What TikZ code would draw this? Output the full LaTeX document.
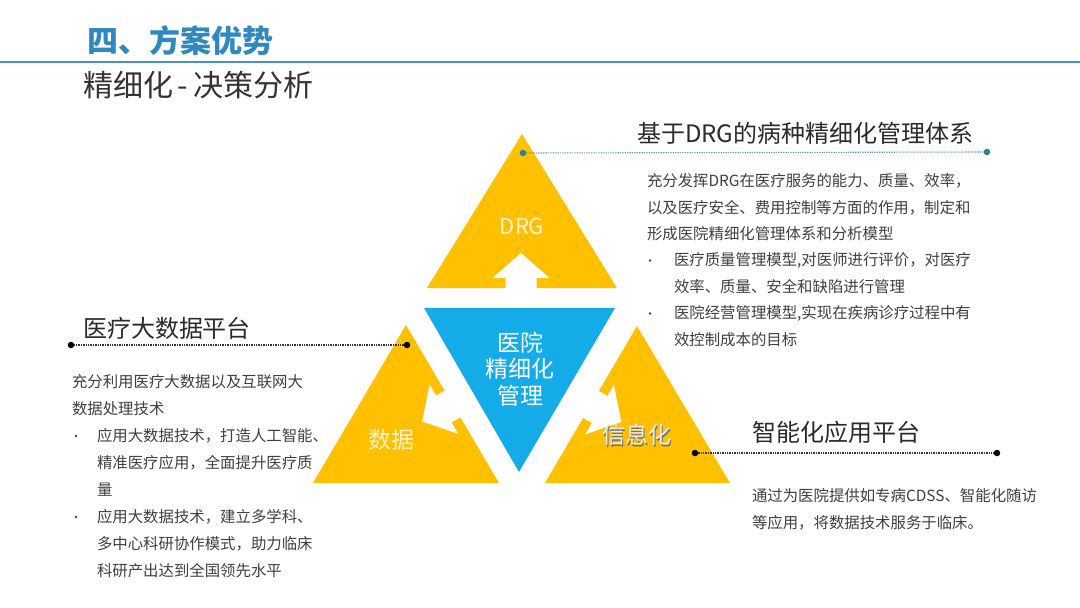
\documentclass[tikz,border=0pt]{standalone}
\usepackage{fontspec}
\setmainfont{Noto Sans CJK SC}
\definecolor{triY}{HTML}{FFC000}
\definecolor{triB}{HTML}{14ACE8}
\definecolor{titleB}{HTML}{2F88BE}
\definecolor{lineB}{HTML}{4A92C4}
\definecolor{subG}{HTML}{333333}
\definecolor{headG}{HTML}{2B2B2B}
\definecolor{bodyG}{HTML}{404040}
\definecolor{lblY}{HTML}{FFF3CF}
\definecolor{dotT}{HTML}{2F7F9C}
\definecolor{leadT}{HTML}{5E9DB8}
\begin{document}
\begin{tikzpicture}[x=1pt,y=-1pt,
  every node/.style={inner sep=0pt,outer sep=0pt},
  bodytxt/.style={anchor=west,font=\fontsize{15.4}{18}\selectfont,text=bodyG},
  bul/.style={circle,fill=bodyG,minimum size=2.8pt},
  headtxt/.style={anchor=west,font=\fontsize{24}{28}\selectfont,text=headG},
  dotblack/.style={circle,fill=black,minimum size=6.5pt},
  dotteal/.style={circle,fill=dotT,minimum size=6.5pt},
  leaderK/.style={draw=black!80,line width=1.1pt,dash pattern=on 1.3pt off 1.1pt},
  leaderT/.style={draw=leadT,line width=1.1pt,dash pattern=on 1.3pt off 1.1pt},
  outarrow/.pic={\fill[white] (-15.5,3) -- (-15.5,-10) -- (-28.5,-10) -- (0,-35) -- (28.5,-10) -- (15.5,-10) -- (15.5,3) -- cycle;}
]
\useasboundingbox (0,0) rectangle (1080,608);
\fill[white] (0,0) rectangle (1080,608);

% header
\node[anchor=west,font=\fontsize{31}{36}\selectfont\bfseries,text=titleB] (title) at (87,41) {四、方案优势};
\draw[lineB,line width=2pt] (0,61.5) -- (1080,61.5);
\node[anchor=west,font=\fontsize{30}{34}\selectfont,text=subG] (sub) at (83,85) {精细化\kern5pt-\kern5pt决策分析};

% triangles
\fill[triY] (427,288) -- (522,134) -- (617,288) -- cycle;
\fill[triB] (424,308) -- (615,308) -- (519,472) -- cycle;
\fill[triY] (313,483) -- (406,325) -- (499,483) -- cycle;
\fill[triY] (545,483) -- (637,326) -- (730,483) -- cycle;

% white arrows
\pic at (521,288) {outarrow};
\pic[rotate=120] at (452.5,404) {outarrow};
\pic[rotate=-120] at (591,404.5) {outarrow};

% triangle labels
\node[font=\fontsize{22}{26}\selectfont,text=lblY] (drg) at (522,226) {DRG};
\node[font=\fontsize{23}{26}\selectfont,text=lblY] (data) at (391,440) {数据};
\node[font=\fontsize{23}{26}\selectfont,text=black!55] (infoshadow) at (638.3,436.3) {信息化};
\node[font=\fontsize{23}{26}\selectfont,text=black!8] (info) at (637,435) {信息化};
\node[align=center,font=\fontsize{23}{26.5}\selectfont,text=white] (core) at (520,369) {医院\\精细化\\管理};

% leader lines
\node[dotteal] (dA) at (523,153) {};
\node[dotteal] (dB) at (987,152) {};
\draw[leaderT] (dA) -- (dB);
\node[dotblack] (dC) at (407,345) {};
\node[dotblack] (dD) at (71,345) {};
\draw[leaderK] (dC) -- (dD);
\node[dotblack] (dE) at (695,453) {};
\node[dotblack] (dF) at (997,453) {};
\draw[leaderK] (dE) -- (dF);

% headings
\node[headtxt] (h1) at (637,133) {基于DRG的病种精细化管理体系};
\node[headtxt] (h2) at (83,328) {医疗大数据平台};
\node[headtxt] (h3) at (752,432) {智能化应用平台};

% right block
\node[bodytxt] (r1) at (647,181) {充分发挥DRG在医疗服务的能力、质量、效率，};
\node[bodytxt] (r2) at (647,207.5) {以及医疗安全、费用控制等方面的作用，制定和};
\node[bodytxt] (r3) at (647,234) {形成医院精细化管理体系和分析模型};
\node[bul] (rb1) at (650,260.5) {};
\node[bodytxt] (r4) at (674,260.5) {医疗质量管理模型,对医师进行评价，对医疗};
\node[bodytxt] (r5) at (674,287) {效率、质量、安全和缺陷进行管理};
\node[bul] (rb2) at (650,313.5) {};
\node[bodytxt] (r6) at (674,313.5) {医院经营管理模型,实现在疾病诊疗过程中有};
\node[bodytxt] (r7) at (674,340) {效控制成本的目标};

% left block
\node[bodytxt] (l1) at (72,382) {充分利用医疗大数据以及互联网大};
\node[bodytxt] (l2) at (72,409) {数据处理技术};
\node[bul] (lb1) at (76,436) {};
\node[bodytxt] (l3) at (97,436) {应用大数据技术，打造人工智能、};
\node[bodytxt] (l4) at (97,463) {精准医疗应用，全面提升医疗质};
\node[bodytxt] (l5) at (97,490) {量};
\node[bul] (lb2) at (76,517) {};
\node[bodytxt] (l6) at (97,517) {应用大数据技术，建立多学科、};
\node[bodytxt] (l7) at (97,544) {多中心科研协作模式，助力临床};
\node[bodytxt] (l8) at (97,571) {科研产出达到全国领先水平};

% bottom right block
\node[bodytxt] (b1) at (752,496) {通过为医院提供如专病CDSS、智能化随访};
\node[bodytxt] (b2) at (752,523) {等应用，将数据技术服务于临床。};
\end{tikzpicture}
\end{document}
